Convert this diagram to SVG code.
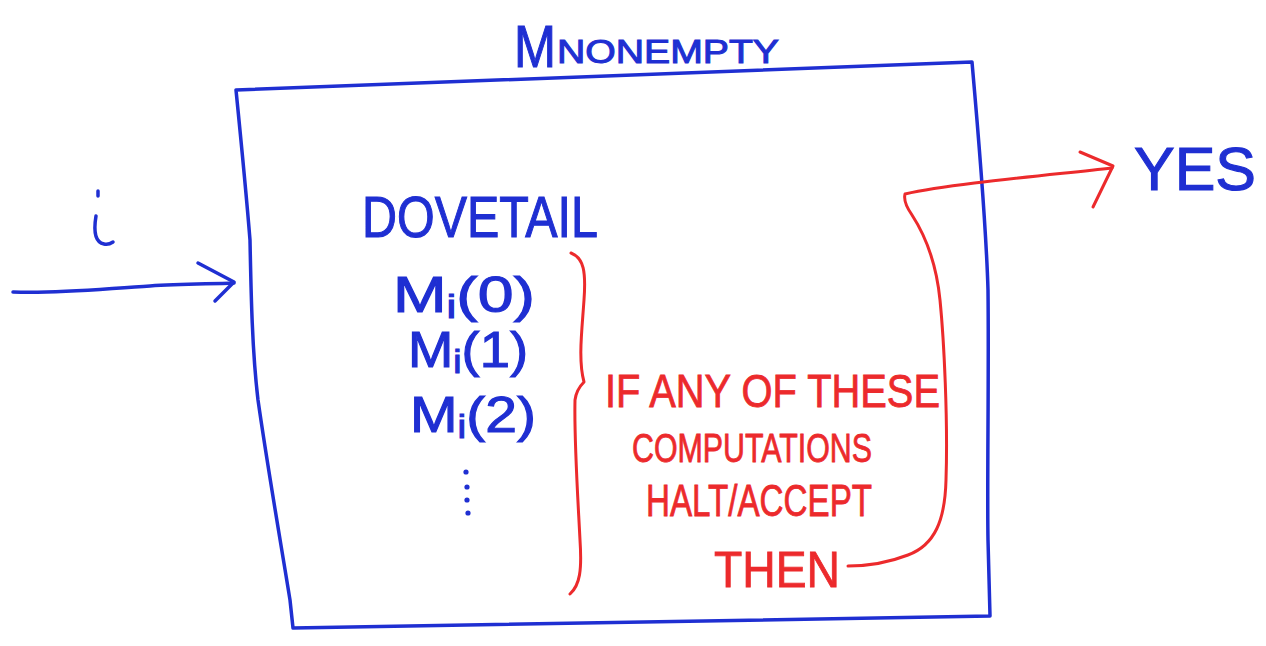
<svg xmlns="http://www.w3.org/2000/svg" width="1266" height="646" viewBox="0 0 1266 646">
  <style>
    .blue { fill: none; stroke: #1f2fd2; stroke-width: 3.5; stroke-linecap: round; stroke-linejoin: round; }
    .red { fill: none; stroke: #ec2a2c; stroke-width: 3; stroke-linecap: round; stroke-linejoin: round; }
    .tb { fill: #1f2fd2; stroke: #1f2fd2; stroke-width: 1.1; font-family: "Liberation Sans", "DejaVu Sans", sans-serif; }
    .tr { fill: #ec2a2c; stroke: #ec2a2c; stroke-width: 0.8; font-family: "Liberation Sans", "DejaVu Sans", sans-serif; }
  </style>
  <rect width="1266" height="646" fill="#ffffff"/>

  <!-- machine box -->
  <g id="machine">
    <path class="blue" d="M236,90 L972,62 C978,130 986,220 988,290 C989,380 987,480 988,540 L990,616 L293,628 L290,600 C282,550 268,470 258,400 C252,350 251,290 250,240 C246,190 240,130 236,90 Z"/>
    <text class="tb" x="514" y="67" font-size="60" textLength="42" lengthAdjust="spacingAndGlyphs">M</text>
    <text class="tb" x="557" y="63" font-size="34" textLength="222" lengthAdjust="spacingAndGlyphs">NONEMPTY</text>
  </g>

  <!-- dovetailed computations -->
  <g id="dovetail">
    <text class="tb" x="362" y="237" font-size="58" textLength="236" lengthAdjust="spacingAndGlyphs">DOVETAIL</text>
    <text class="tb" x="393" y="312" font-size="50" textLength="142" lengthAdjust="spacingAndGlyphs">M<tspan font-size="34" dy="6">i</tspan><tspan dy="-6">(0)</tspan></text>
    <text class="tb" x="408" y="367" font-size="50" textLength="120" lengthAdjust="spacingAndGlyphs">M<tspan font-size="34" dy="6">i</tspan><tspan dy="-6">(1)</tspan></text>
    <text class="tb" x="410" y="432" font-size="50" textLength="126" lengthAdjust="spacingAndGlyphs">M<tspan font-size="34" dy="6">i</tspan><tspan dy="-6">(2)</tspan></text>
    <circle cx="466" cy="472" r="2.6" fill="#1f2fd2"/>
    <circle cx="467" cy="487" r="2.6" fill="#1f2fd2"/>
    <circle cx="467" cy="500" r="2.6" fill="#1f2fd2"/>
    <circle cx="468" cy="513" r="2.6" fill="#1f2fd2"/>
  </g>

  <!-- condition -->
  <g id="condition">
    <path class="red" d="M571,253 C584,258 586,272 584,300 C582,330 578,360 584,382 C580,386 576,392 575,400 C574,440 578,500 580,540 C582,570 580,585 570,594"/>
    <text class="tr" x="605" y="407" font-size="46" textLength="335" lengthAdjust="spacingAndGlyphs">IF ANY OF THESE</text>
    <text class="tr" x="632" y="462" font-size="40" textLength="240" lengthAdjust="spacingAndGlyphs">COMPUTATIONS</text>
    <text class="tr" x="646" y="516" font-size="44" textLength="226" lengthAdjust="spacingAndGlyphs">HALT/ACCEPT</text>
    <text class="tr" x="714" y="587" font-size="50" textLength="126" lengthAdjust="spacingAndGlyphs">THEN</text>
  </g>

  <!-- outputs and inputs -->
  <g id="labels">
    <text class="tb" x="1134" y="190" font-size="62" textLength="122" lengthAdjust="spacingAndGlyphs">YES</text>
    <path class="blue" d="M98,191 L98,196 M96,216 C94,228 94,242 104,244 C108,245 110,244 113,242" stroke-width="3"/>
  </g>

  <g id="connectors">
    <!-- input arrow -->
    <path class="blue" d="M13,292 C60,294 110,288 150,286 C180,284 210,284 234,283"/>
    <path class="blue" d="M198,263 L234,282 L215,301"/>
    <!-- accept path to YES -->
    <path class="red" d="M848,566 C870,566 890,562 908,555 C935,545 945,520 946,480 C948,420 944,340 940,300 C936,260 925,235 912,215 C905,205 904,198 905,194 C950,184 1040,176 1112,168"/>
    <path class="red" d="M1080,152 L1113,166 L1093,207"/>
  </g>
</svg>
